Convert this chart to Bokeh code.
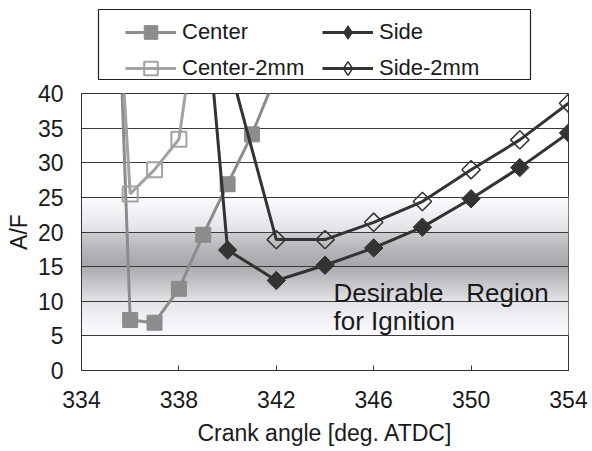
import numpy as np
from bokeh.plotting import figure
from bokeh.layouts import column
from bokeh.models import Legend, LegendItem, FixedTicker, Range1d
from bokeh.core.properties import value
from bokeh.embed import file_html
from bokeh.resources import INLINE

# ---- data ----
center_x = [335, 336, 337, 338, 339, 340, 341, 342]
center_af = [106, 7.3, 6.9, 11.8, 19.6, 26.9, 34.1, 42.7]
center2_x = [335, 336, 337, 338, 339]
center2_af = [84, 25.5, 29.0, 33.4, 58]
side_x = [338, 340, 342, 344, 346, 348, 350, 352, 354]
side_af = [97, 17.4, 13.0, 15.2, 17.7, 20.7, 24.8, 29.3, 34.3]
side2_x = [340, 342, 344, 346, 348, 350, 352, 354]
side2_af = [45, 18.9, 18.9, 21.4, 24.4, 29.0, 33.3, 38.6]

series_names = ["Center", "Side", "Center-2mm", "Side-2mm"]
x_ticks = [334, 338, 342, 346, 350, 354]
y_ticks = [0, 5, 10, 15, 20, 25, 30, 35, 40]

# desirable region shading (A/F stops and grey levels)
band_af = [5.0, 7.0, 10.0, 12.5, 14.8, 15.2, 17.5, 19.95, 20.05, 22.5, 25.0]
band_gray = [252, 244, 228, 198, 174, 168, 182, 206, 226, 240, 252]

ann_x = [344.35, 349.8, 344.35]
ann_y = [11.2, 11.2, 7.2]
ann_text = ["Desirable", "Region", "for Ignition"]

FONT = "Liberation Sans"
TXT = "#1a1a1a"
C_CENTER = "#8c8c8c"
C_CENTER2 = "#a2a2a2"
C_SIDE = "#333333"

W = 592
LEG_H = 80
MAIN_H = 451 - LEG_H
TOP = 93 - LEG_H

# ---------------- main chart ----------------
p = figure(width=W, height=MAIN_H, x_range=(334, 354), y_range=(0, 40),
           output_backend="svg", toolbar_location=None,
           min_border_left=81, min_border_right=24, min_border_top=TOP,
           min_border_bottom=81)
p.frame_align = False
p.outline_line_color = "#333333"
p.outline_line_width = 1
p.background_fill_color = "white"
p.border_fill_color = "white"

ys = np.arange(band_af[0], band_af[-1], 0.25)
mids = ys + 0.125
g = np.interp(mids, band_af, band_gray)
cols = ["#%02x%02x%02x" % (int(v), int(v), min(255, int(v) + 4)) for v in g]
p.quad(left=x_ticks[0], right=x_ticks[-1], bottom=ys, top=ys + 0.45,
       fill_color=cols, line_color=None, level="image")

p.xgrid.visible = False
p.ygrid.ticker = FixedTicker(ticks=y_ticks)
p.ygrid.grid_line_color = "#3a3a3a"
p.ygrid.grid_line_width = 1

for ax in (p.xaxis[0], p.yaxis[0]):
    ax.major_tick_out = 0
    ax.major_tick_in = 5
    ax.minor_tick_in = 0
    ax.minor_tick_out = 0
    ax.major_tick_line_color = "#333333"
    ax.axis_line_color = "#333333"
    ax.major_label_text_font = FONT
    ax.major_label_text_font_size = "23px"
    ax.major_label_text_color = TXT
    ax.axis_label_text_font = FONT
    ax.axis_label_text_font_size = "23px"
    ax.axis_label_text_font_style = "normal"
    ax.axis_label_text_color = TXT

p.xaxis.ticker = FixedTicker(ticks=x_ticks)
p.yaxis.ticker = FixedTicker(ticks=y_ticks)
p.xaxis.axis_label = "Crank angle [deg. ATDC]"
p.yaxis.axis_label = "A/F"
p.xaxis.major_label_standoff = 20
p.xaxis.axis_label_standoff = 9
p.yaxis.major_label_standoff = 18
p.yaxis.axis_label_standoff = 3

styles = {
    "Center": dict(line=dict(line_color=C_CENTER, line_width=3),
                   mark=dict(marker="square", size=15, fill_color=C_CENTER,
                             line_color=C_CENTER)),
    "Center-2mm": dict(line=dict(line_color=C_CENTER2, line_width=3),
                       mark=dict(marker="square", size=15, fill_color=None,
                                 line_color=C_CENTER2, line_width=2)),
    "Side": dict(line=dict(line_color=C_SIDE, line_width=3),
                 mark=dict(marker="square", angle=np.pi / 4, size=13,
                           fill_color=C_SIDE, line_color=C_SIDE)),
    "Side-2mm": dict(line=dict(line_color=C_SIDE, line_width=3),
                     mark=dict(marker="square", angle=np.pi / 4, size=13,
                               fill_color=None, line_color=C_SIDE,
                               line_width=1.5)),
}
series = {"Center": (center_x, center_af), "Center-2mm": (center2_x, center2_af),
          "Side": (side_x, side_af), "Side-2mm": (side2_x, side2_af)}

for name in ["Center", "Center-2mm", "Side", "Side-2mm"]:
    xs, af = series[name]
    p.line(xs, af, **styles[name]["line"])
    p.scatter(xs, af, **styles[name]["mark"])

p.text(x=ann_x, y=ann_y, text=ann_text, text_font=value(FONT),
       text_font_size="26px", text_color=TXT, text_baseline="alphabetic",
       text_align="left")

# ---------------- legend strip ----------------
lf = figure(width=W, height=LEG_H, x_range=Range1d(0, W), y_range=Range1d(LEG_H, 0),
            output_backend="svg", toolbar_location=None,
            x_axis_location=None, y_axis_location=None,
            min_border=0, min_border_left=0, min_border_right=0,
            min_border_top=0, min_border_bottom=0)
lf.frame_align = False
lf.outline_line_color = None
lf.background_fill_color = "white"
lf.border_fill_color = "white"
lf.grid.visible = False

# legend frame
lf.quad(left=[98], right=[530], top=[9], bottom=[79], fill_color=None,
        line_color="#222222", line_width=1.2)

nan = float("nan")
items = []
for name in series_names:
    mk = dict(styles[name]["mark"])
    if name.startswith("Side"):
        mk["marker"] = "diamond"
        mk.pop("angle", None)
    rl = lf.line([nan], [nan], **styles[name]["line"])
    rm = lf.scatter([nan], [nan], **mk)
    items.append(LegendItem(label=name, renderers=[rl, rm]))

legend = Legend(items=items, orientation="horizontal", ncols=2,
                location=(125, -5),
                glyph_width=51, glyph_height=34, label_height=25, label_width=138,
                label_standoff=6, spacing=2, padding=8, margin=0,
                border_line_color=None, background_fill_alpha=0,
                label_text_font=FONT, label_text_font_size="22px",
                label_text_color=TXT)
lf.add_layout(legend)

layout = column(lf, p, spacing=0)
open("out.html", "w").write(file_html(layout, INLINE))
